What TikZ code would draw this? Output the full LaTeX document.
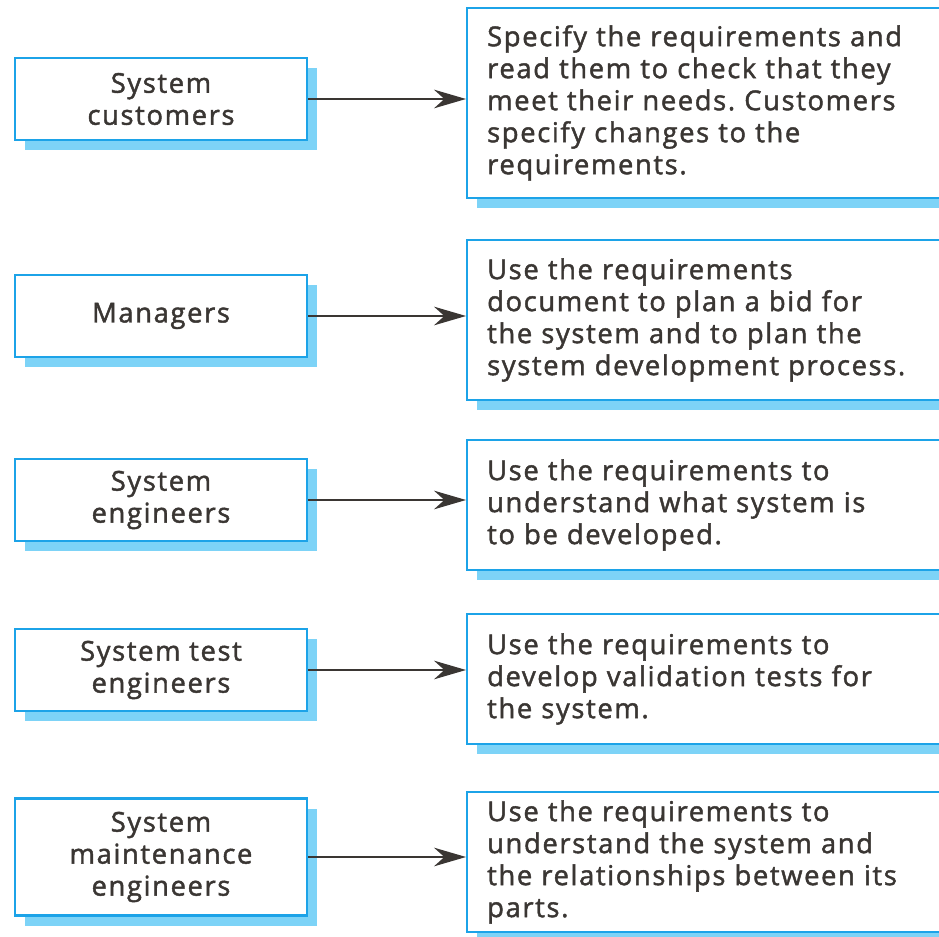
\documentclass[tikz,border=0pt]{standalone}
\usepackage{fontspec}
\setmainfont{Open Sans}[FakeBold=1.6, LetterSpace=6]
\usetikzlibrary{arrows.meta,shadows}
\definecolor{boxblue}{HTML}{1CA3E8}
\definecolor{shadowblue}{HTML}{7DD3F7}
\definecolor{inkgray}{HTML}{3A3633}
\newcommand{\arw}{-{Stealth[length=24pt,width=14pt]}}
\frenchspacing

\begin{document}
\begin{tikzpicture}[x=.75pt,y=-.75pt,
  font=\fontsize{20.5}{24}\selectfont, text=inkgray,
  box/.style={draw=boxblue, line width=1.8pt, fill=white,
    drop shadow={shadow xshift=7.5pt, shadow yshift=-7.5pt, fill=shadowblue, opacity=1}},
  role/.style={box, minimum width=219pt, minimum height=61.5pt, align=center},
  use/.style={box, anchor=west, minimum width=360pt, text width=330pt, align=left, inner xsep=15pt}]
\useasboundingbox (0,0) rectangle (939,937);
%stakeholders
\node[role] (cust)  at (161,99)  {System\\customers};
\node[role] (mgr)   at (161,316) {Managers};
\node[role] (eng)   at (161,500) {System\\engineers};
\node[role] (test)  at (161,670) {System test\\engineers};
\node[role, minimum height=87.75pt] (maint) at (161,857) {System\\maintenance\\engineers};
%what they use the requirements for
\node[use, minimum height=142.5pt] (custuse)  at (466,103) {Specify the requirements and\\read them to check that they\\meet their needs. Customers\\specify changes to the\\requirements.};
\node[use, minimum height=120pt]   (mgruse)   at (466,320) {Use the requirements\\document to plan a bid for\\the system and to plan the\\system development process.};
\node[use, minimum height=97.5pt]  (enguse)   at (466,505) {Use the requirements to\\understand what system is\\to be developed.};
\node[use, minimum height=97.5pt]  (testuse)  at (466,679) {Use the requirements to\\develop validation tests for\\the system.};
\node[use, minimum height=105pt]   (maintuse) at (466,862) {Use the requirements to\\understand the system and\\the relationships between its\\parts.};
%connectors
\draw[\arw, line width=1.3pt, draw=inkgray] (cust.east)  -- (cust.east -| custuse.west);
\draw[\arw, line width=1.3pt, draw=inkgray] (mgr.east)   -- (mgr.east -| mgruse.west);
\draw[\arw, line width=1.3pt, draw=inkgray] (eng.east)   -- (eng.east -| enguse.west);
\draw[\arw, line width=1.3pt, draw=inkgray] (test.east)  -- (test.east -| testuse.west);
\draw[\arw, line width=1.3pt, draw=inkgray] (maint.east) -- (maint.east -| maintuse.west);
\end{tikzpicture}
\end{document}
